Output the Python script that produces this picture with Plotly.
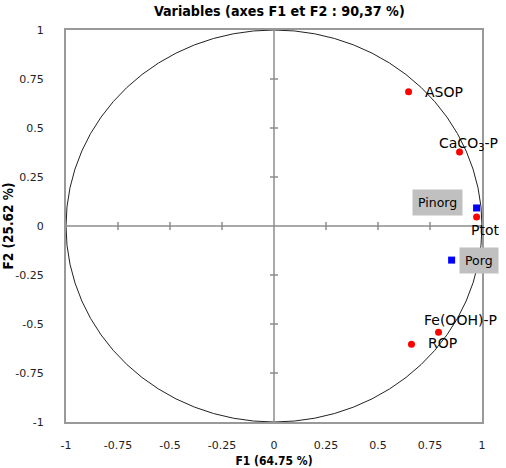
import plotly.graph_objects as go

# Data
red_names = ["ASOP", "CaCO<sub>3</sub>-P", "Ptot", "Fe(OOH)-P", "ROP"]
red_x = [0.647, 0.892, 0.974, 0.791, 0.661]
red_y = [0.685, 0.378, 0.046, -0.542, -0.603]

blue_names = ["Pinorg", "Porg"]
blue_x = [0.974, 0.854]
blue_y = [0.092, -0.174]

tick_vals = [-1, -0.75, -0.5, -0.25, 0, 0.25, 0.5, 0.75, 1]
tick_text = ["-1", "-0.75", "-0.5", "-0.25", "0", "0.25", "0.5", "0.75", "1"]

title_text = "Variables (axes F1 et F2 : 90,37 %)"
x_title = "F1 (64.75 %)"
y_title = "F2 (25.62 %)"

# label offsets in pixels (style)
red_offsets = [(35, 0), (9, 8), (8, -13), (22, 12), (31, 1)]
blue_offsets = [(-39, 5), (27, 0)]

FONT = "DejaVu Sans"
BOLD = "DejaVu Sans Condensed, DejaVu Sans"

fig = go.Figure()
fig.add_trace(go.Scatter(x=red_x, y=red_y, mode="markers",
                         marker=dict(color="#ff0000", size=7, symbol="circle"),
                         hoverinfo="skip", showlegend=False, cliponaxis=False))
fig.add_trace(go.Scatter(x=blue_x, y=blue_y, mode="markers",
                         marker=dict(color="#0000ff", size=7, symbol="square"),
                         hoverinfo="skip", showlegend=False, cliponaxis=False))

shapes = []
# unit circle
shapes.append(dict(type="circle", xref="x", yref="y", x0=-1, y0=-1, x1=1, y1=1,
                   line=dict(color="#222222", width=1), layer="below"))
# zero lines
shapes.append(dict(type="line", xref="x", yref="y", x0=-1, x1=1, y0=0, y1=0,
                   line=dict(color="#8c8c8c", width=1.5), layer="below"))
shapes.append(dict(type="line", xref="x", yref="y", x0=0, x1=0, y0=-1, y1=1,
                   line=dict(color="#8c8c8c", width=1.5), layer="below"))
# tick marks crossing the zero lines
for t in tick_vals:
    if t in (-1, 0, 1):
        continue
    shapes.append(dict(type="line", xref="x", yref="y", x0=t, x1=t,
                       ysizemode="pixel", yanchor=0, y0=-4, y1=4,
                       line=dict(color="#8c8c8c", width=1.5), layer="below"))
    shapes.append(dict(type="line", xref="x", yref="y", y0=t, y1=t,
                       xsizemode="pixel", xanchor=0, x0=-4, x1=4,
                       line=dict(color="#8c8c8c", width=1.5), layer="below"))

annotations = []
for name, x, y, (dx, dy) in zip(red_names, red_x, red_y, red_offsets):
    annotations.append(dict(x=x, y=y, xref="x", yref="y", text=name, showarrow=False,
                            xshift=dx, yshift=dy,
                            font=dict(family=FONT, size=14, color="#000000")))
for name, x, y, (dx, dy) in zip(blue_names, blue_x, blue_y, blue_offsets):
    annotations.append(dict(x=x, y=y, xref="x", yref="y", text=name, showarrow=False,
                            xshift=dx, yshift=dy, bgcolor="#c0c0c0", borderpad=5,
                            font=dict(family=FONT, size=12.5, color="#000000")))

fig.update_layout(
    width=506, height=468,
    margin=dict(l=66, r=24, t=30, b=46),
    paper_bgcolor="white", plot_bgcolor="white",
    title=dict(text="<b>" + title_text + "</b>", x=0.552, xanchor="center",
               y=1 - 11 / 468, yanchor="middle",
               font=dict(family=BOLD, size=14.2, color="#000000")),
    shapes=shapes, annotations=annotations,
    xaxis=dict(range=[-1, 1], tickvals=tick_vals, ticktext=tick_text,
               showgrid=False, zeroline=False, showline=True, mirror=True,
               automargin=False,
               linecolor="#999999", linewidth=2, ticks="", ticklabelstandoff=12,
               tickfont=dict(family=FONT, size=11, color="#222222"),
               title=dict(text="<b>" + x_title + "</b>", standoff=11,
                          font=dict(family=BOLD, size=12, color="#000000"))),
    yaxis=dict(range=[-1, 1], tickvals=tick_vals, ticktext=tick_text,
               showgrid=False, zeroline=False, showline=True, mirror=True,
               automargin=False,
               linecolor="#999999", linewidth=2, ticks="", ticklabelstandoff=18,
               tickfont=dict(family=FONT, size=11, color="#222222"),
               title=dict(text="<b>" + y_title + "</b>", standoff=2,
                          font=dict(family=BOLD, size=13.5, color="#000000"))),
)

fig.write_html("out.html")
